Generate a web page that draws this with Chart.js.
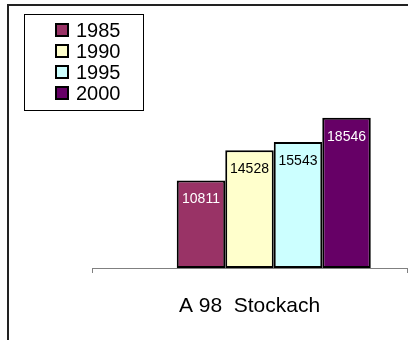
<!DOCTYPE html>
<html>
<head>
<meta charset="utf-8">
<script src="https://cdn.jsdelivr.net/npm/chart.js@4"></script>
<style>
  html, body { margin: 0; padding: 0; background: #fff; }
  canvas { display: block; }
</style>
</head>
<body>
<canvas id="chart" width="408" height="340"></canvas>
<script>
// Road section and yearly traffic counts
const categories = ['A 98  Stockach'];
const years = ['1985', '1990', '1995', '2000'];
const values1985 = [10811];
const values1990 = [14528];
const values1995 = [15543];
const values2000 = [18546];
const yearColors = ['#993366', '#FFFFCC', '#CCFFFF', '#660066'];

const FONT = '"Liberation Sans", Arial, sans-serif';

// An empty leading slot keeps the group shifted as in the original layout
const seriesValues = [values1985, values1990, values1995, values2000];
const datasets = [{
  label: '',
  data: categories.map(() => null),
  backgroundColor: 'rgba(0,0,0,0)',
  borderWidth: 0,
  spacer: true
}].concat(years.map((y, i) => ({
  label: y,
  data: seriesValues[i],
  backgroundColor: yearColors[i],
  borderColor: '#000000',
  borderWidth: 2,
  borderSkipped: false
})));

function isDark(hex) {
  const r = parseInt(hex.slice(1, 3), 16);
  const g = parseInt(hex.slice(3, 5), 16);
  const b = parseInt(hex.slice(5, 7), 16);
  return (0.299 * r + 0.587 * g + 0.114 * b) < 128;
}

// Outer frame lines
const framePlugin = {
  id: 'frame',
  beforeDraw(chart) {
    const ctx = chart.ctx;
    ctx.save();
    ctx.strokeStyle = '#222222';
    ctx.lineWidth = 2;
    ctx.beginPath();
    ctx.moveTo(8, chart.height);
    ctx.lineTo(8, 5);
    ctx.lineTo(chart.width, 5);
    ctx.stroke();
    ctx.restore();
  }
};

// Value written inside the top of each bar
const valueLabels = {
  id: 'valueLabels',
  afterDatasetsDraw(chart) {
    const ctx = chart.ctx;
    ctx.save();
    ctx.font = '14px ' + FONT;
    ctx.textAlign = 'center';
    ctx.textBaseline = 'middle';
    chart.data.datasets.forEach((ds, di) => {
      if (ds.spacer) return;
      const meta = chart.getDatasetMeta(di);
      meta.data.forEach((bar, i) => {
        const v = ds.data[i];
        if (v == null) return;
        ctx.fillStyle = isDark(ds.backgroundColor) ? '#ffffff' : '#000000';
        ctx.fillText(String(v), bar.x, bar.y + 19);
      });
    });
    ctx.restore();
  }
};

// Boxed legend in the upper left corner
const boxLegend = {
  id: 'boxLegend',
  afterDraw(chart) {
    const ctx = chart.ctx;
    ctx.save();
    ctx.strokeStyle = '#000000';
    ctx.lineWidth = 1;
    ctx.fillStyle = '#ffffff';
    ctx.fillRect(24.5, 14.5, 119, 96);
    ctx.strokeRect(24.5, 14.5, 119, 96);
    ctx.font = '20px ' + FONT;
    ctx.textBaseline = 'middle';
    ctx.textAlign = 'left';
    const items = chart.data.datasets.filter(d => !d.spacer);
    items.forEach((ds, i) => {
      const cy = 30 + i * 21;
      ctx.fillStyle = ds.backgroundColor;
      ctx.fillRect(56, cy - 6, 12, 12);
      ctx.lineWidth = 2;
      ctx.strokeStyle = '#000000';
      ctx.strokeRect(56, cy - 6, 12, 12);
      ctx.fillStyle = '#000000';
      ctx.fillText(ds.label, 76, cy + 1);
    });
    ctx.restore();
  }
};

new Chart(document.getElementById('chart'), {
  type: 'bar',
  data: { labels: categories, datasets },
  plugins: [framePlugin, valueLabels, boxLegend],
  options: {
    responsive: false,
    animation: false,
    layout: { padding: { left: 92, right: 1, top: 106, bottom: 0 } },
    plugins: {
      legend: { display: false },
      tooltip: { enabled: false }
    },
    datasets: {
      bar: { categoryPercentage: 0.77, barPercentage: 1.0 }
    },
    scales: {
      x: {
        afterFit(scale) { scale.height = 72; },
        grid: {
          offset: true,
          drawOnChartArea: false,
          drawTicks: true,
          tickLength: 5,
          color: '#808080'
        },
        border: { display: true, color: '#808080', width: 1 },
        ticks: {
          color: '#000000',
          padding: 21,
          font: { family: FONT, size: 21 }
        }
      },
      y: {
        display: false,
        min: 0,
        max: 20000
      }
    }
  }
});
</script>
</body>
</html>
